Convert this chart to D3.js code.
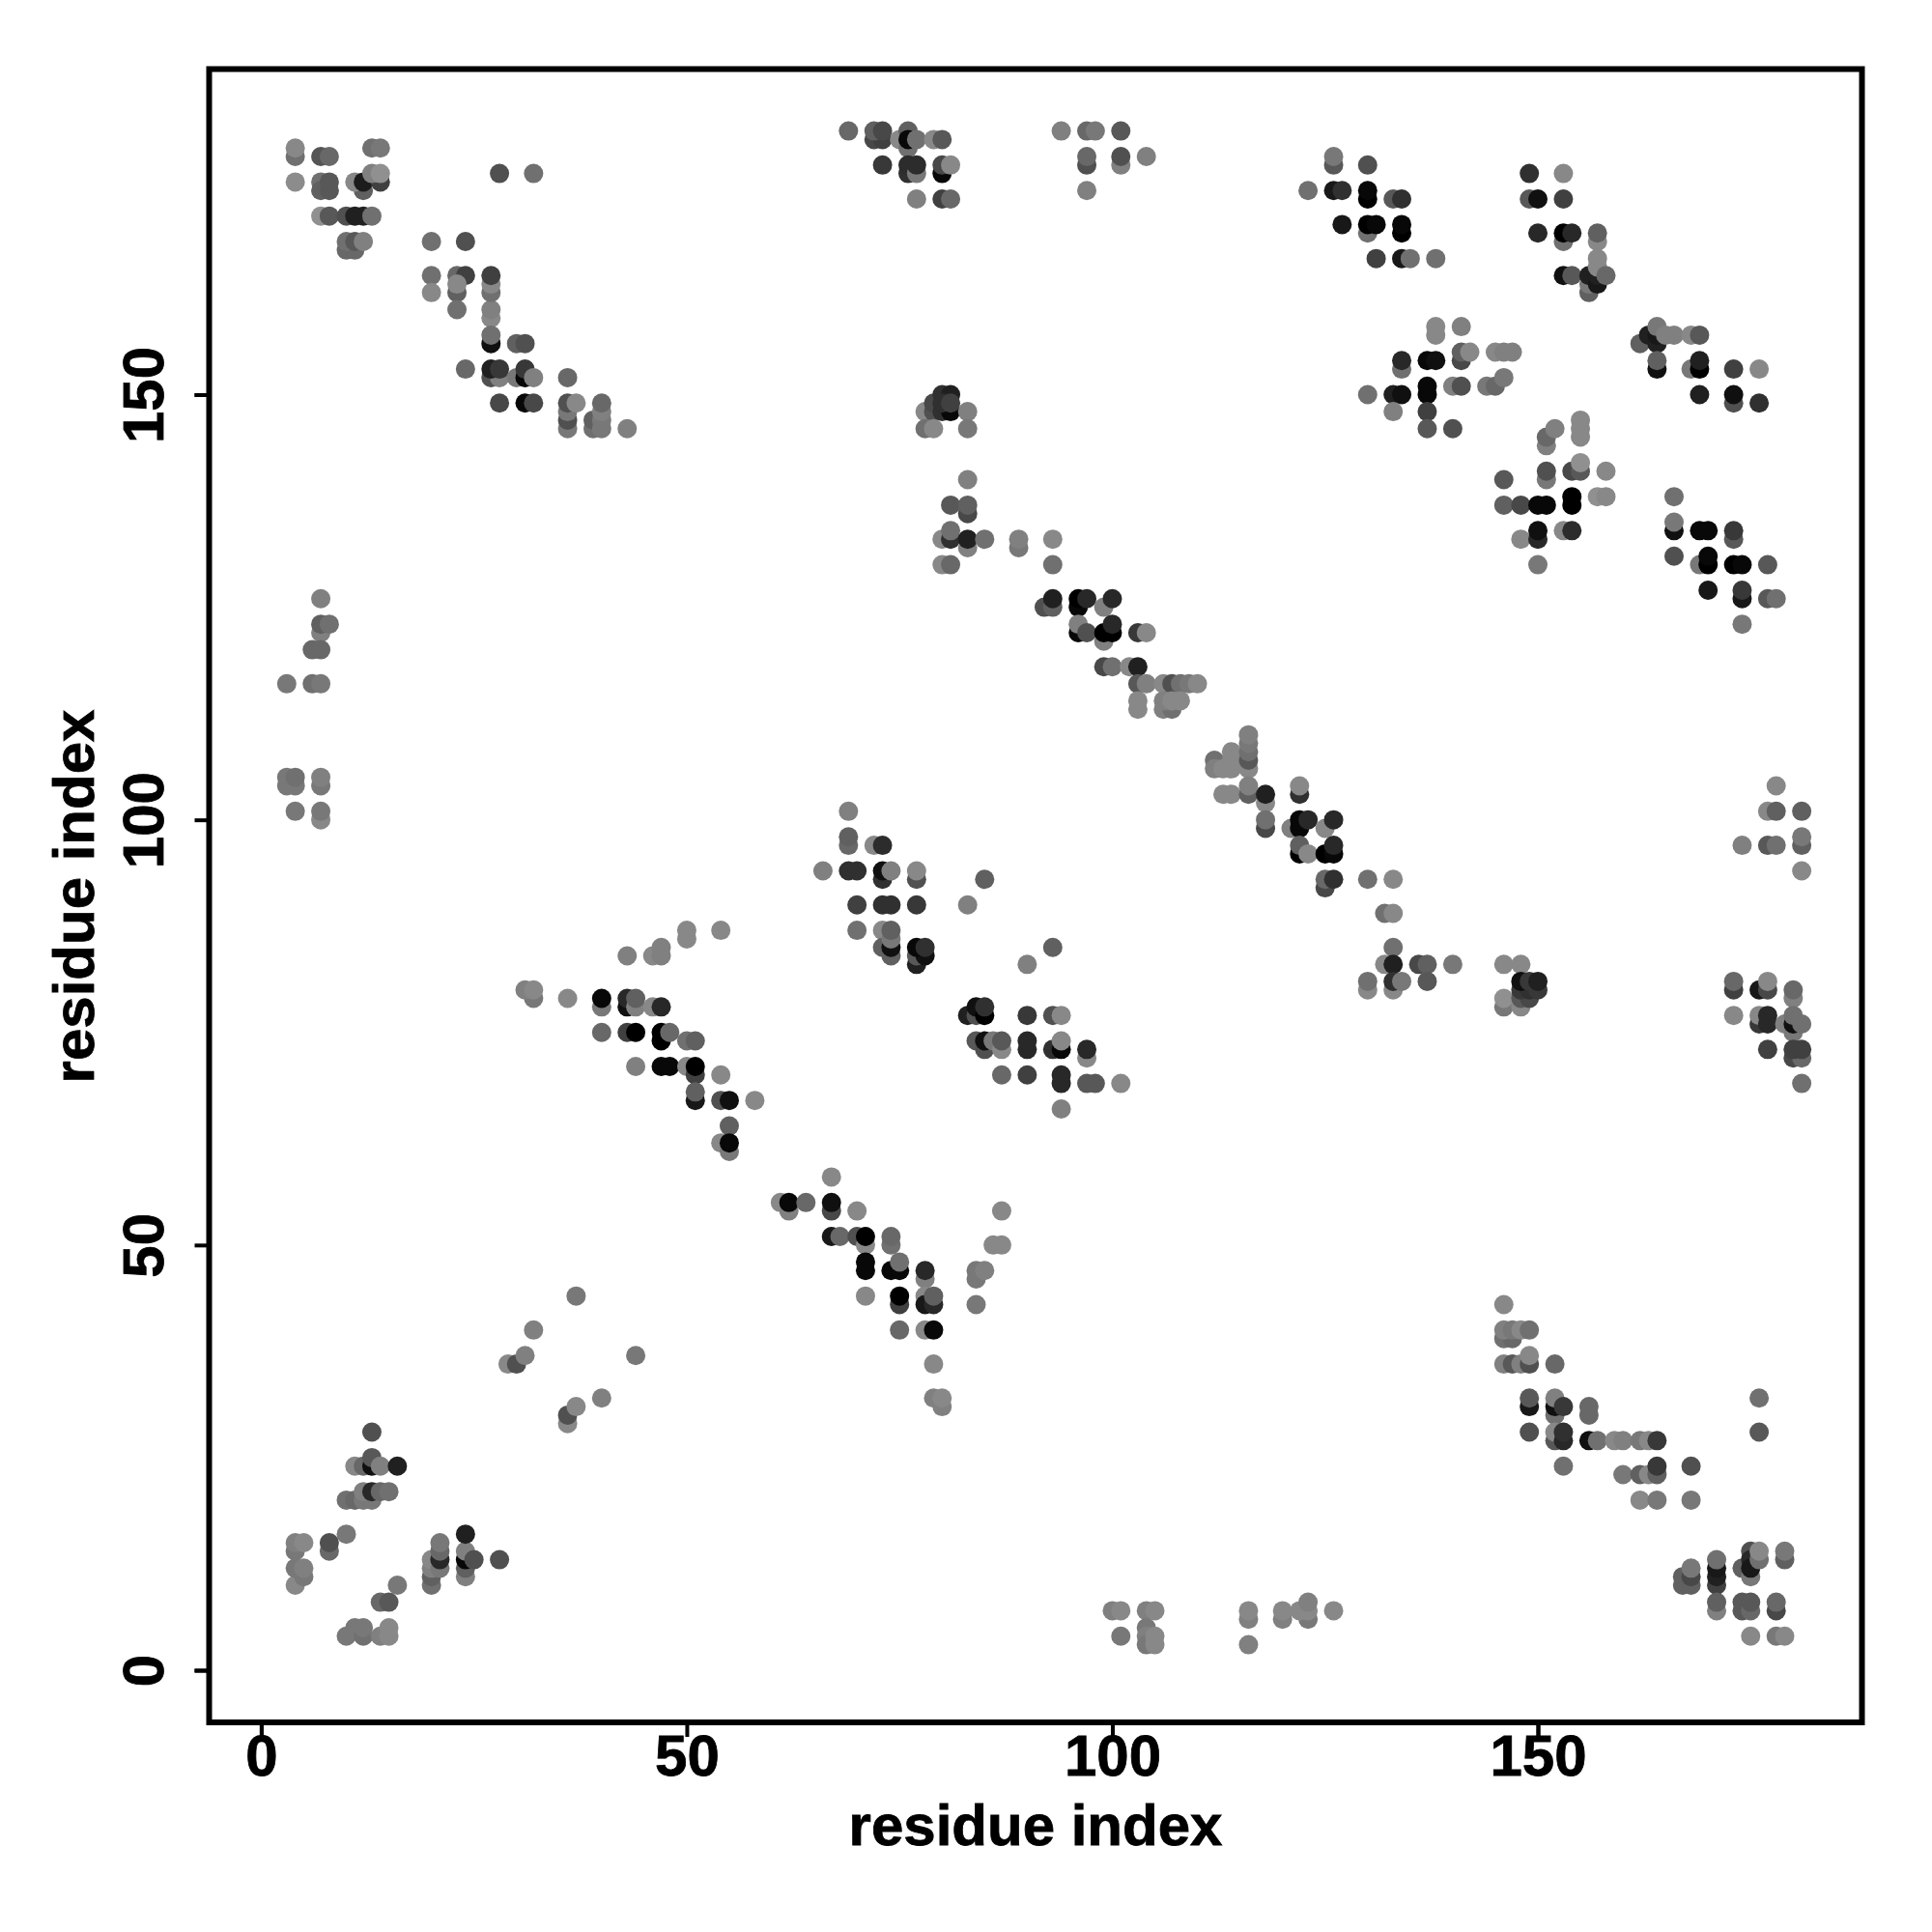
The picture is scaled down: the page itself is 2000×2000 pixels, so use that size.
<!DOCTYPE html>
<html><head><meta charset="utf-8">
<style>html,body{margin:0;padding:0;background:#fff}svg{display:block}</style>
<script src="https://cdn.jsdelivr.net/npm/d3@7/dist/d3.min.js"></script>
</head><body><svg id="c" width="2000" height="2000"></svg>
<script>
// Each entry: [residue index x, residue index y, grey shade of the point]
const topLeft = [[4,178,0x70],[4,179,0x88],[4,175,0x8c],[7,178,0x55],[8,178,0x68],[13,179,0x70],[14,179,0x78],
[7,175,0x70],[7,174,0x60],[8,174,0x58],[8,175,0x58],[12,174,0x60],[11,175,0x88],[12,175,0x1c],[14,175,0x40],[13,176,0x80],[14,176,0x90],
[7,171,0x90],[8,171,0x58],[10,171,0x50],[11,171,0x20],[12,171,0x20],[13,171,0x70],
[10,167,0x68],[11,167,0x68],[10,168,0x70],[11,168,0x58],[12,168,0x80],[28,176,0x50],[32,176,0x70]];
const upperStrand = [[20,168,0x70],[24,168,0x50],[20,164,0x70],[23,164,0x68],[24,164,0x40],[20,162,0x88],[23,162,0x60],[23,163,0x88],[23,160,0x70],
[27,159,0x88],[27,160,0x80],[27,162,0x70],[27,163,0x88],[27,164,0x40],[27,156,0x10],[27,157,0x70],[30,156,0x60],[31,156,0x50],
[24,153,0x68],[27,152,0x50],[28,152,0x80],[27,153,0x20],[28,153,0x38],[30,152,0x78],[31,152,0x08],[31,153,0x38],[32,152,0x80],[36,152,0x68],
[28,149,0x48],[31,149,0x08],[32,149,0x48],[36,146,0x78],[36,147,0x50],[36,148,0x78],[36,149,0x50],[37,149,0x88],[39,146,0x70],[39,147,0x60],[40,146,0x78],[40,147,0x78],[40,148,0x80],[40,149,0x68],[43,146,0x80]];
const topMiddle = [[69,181,0x68],[72,180,0x48],[73,180,0x40],[72,181,0x60],[73,181,0x48],[75,180,0x88],[76,179,0x70],[76,181,0x60],[76,180,0x08],[77,180,0x70],[79,180,0x88],[80,180,0x58],
[73,177,0x38],[76,176,0x30],[76,177,0x2c],[77,176,0x78],[77,177,0x2c],[80,176,0x08],[80,177,0x48],[81,177,0x88],[77,173,0x80],[80,173,0x40],[81,173,0x68],
[94,181,0x80],[97,181,0x68],[98,181,0x78],[101,181,0x58],[97,177,0x50],[97,178,0x68],[101,177,0x80],[101,178,0x50],[104,178,0x80],[97,174,0x80]];
const topRight = [[126,177,0x58],[126,178,0x78],[130,177,0x50],[123,174,0x70],[126,174,0x18],[127,174,0x30],[130,173,0x00],[130,174,0x08],[133,173,0x58],[134,173,0x30],
[127,170,0x18],[130,169,0x70],[130,170,0x00],[131,170,0x08],[134,169,0x00],[134,170,0x08],[131,166,0x40],[134,166,0x18],[135,166,0x70],[138,166,0x70],
[149,176,0x30],[153,176,0x88],[149,173,0x58],[150,173,0x10],[153,173,0x40],[150,169,0x28],[153,168,0x70],[153,169,0x00],[154,169,0x28],[157,168,0x88],[157,169,0x60],
[153,164,0x10],[154,164,0x58],[156,162,0x60],[156,163,0x78],[156,164,0x20],[157,163,0x18],[157,164,0x20],[157,165,0x88],[157,166,0x88],[158,164,0x68]];
const rightUpper = [[138,157,0x88],[138,158,0x88],[141,158,0x80],[134,153,0x70],[134,154,0x28],[137,154,0x08],[138,154,0x10],[141,154,0x48],[141,155,0x60],[142,155,0x88],[145,155,0x88],[146,155,0x80],[147,155,0x80],
[130,150,0x70],[133,150,0x20],[134,150,0x10],[137,150,0x08],[137,151,0x08],[140,151,0x80],[141,151,0x50],[144,151,0x78],[145,151,0x68],[146,152,0x78],[133,148,0x80],[137,148,0x40],[137,146,0x58],[140,146,0x50],
[162,156,0x60],[163,157,0x20],[164,156,0x20],[164,157,0x18],[164,158,0x78],[165,157,0x80],[166,157,0x80],[168,157,0x88],[169,157,0x58],
[164,153,0x10],[164,154,0x60],[168,153,0x78],[169,153,0x00],[169,154,0x20],[173,153,0x40],[176,153,0x88],[169,150,0x20],[173,149,0x50],[173,150,0x10],[176,149,0x30]];
const rightMiddle = [[151,144,0x80],[151,145,0x68],[152,146,0x80],[155,145,0x88],[155,146,0x88],[155,147,0x88],[151,140,0x78],[151,141,0x50],[154,141,0x48],[155,141,0x58],[155,142,0x90],[158,141,0x88],[146,140,0x58],
[146,137,0x60],[148,137,0x48],[150,137,0x08],[151,137,0x08],[154,137,0x00],[154,138,0x00],[157,138,0x90],[158,138,0x88],[148,133,0x88],[150,133,0x28],[150,134,0x10],[153,134,0x88],[154,134,0x2c],[150,130,0x78],
[166,138,0x70],[166,134,0x10],[166,135,0x78],[166,131,0x50],[169,134,0x08],[170,134,0x08],[173,133,0x58],[173,134,0x38],[169,130,0x78],[170,130,0x00],[170,131,0x08],[173,130,0x00],[174,130,0x08],[177,130,0x58],[170,127,0x18],[174,126,0x18],[174,127,0x38],[177,126,0x58],[178,126,0x70],[174,123,0x78]];
const centreUpper = [[78,148,0x88],[79,148,0x50],[79,149,0x48],[80,148,0x30],[81,148,0x08],[80,150,0x30],[81,150,0x20],[80,149,0x30],[81,149,0x40],[83,148,0x80],[78,146,0x70],[79,146,0x88],[83,146,0x78],
[83,140,0x80],[81,137,0x58],[83,136,0x48],[83,137,0x60],[80,133,0x88],[81,133,0x30],[81,134,0x70],[83,132,0x80],[83,133,0x20],[85,133,0x70],[89,132,0x78],[89,133,0x80],[93,133,0x88],[80,130,0x88],[81,130,0x68],[93,130,0x70],
[92,125,0x50],[93,125,0x60],[93,126,0x20],[96,125,0x08],[96,126,0x00],[97,126,0x28],[99,125,0x80],[100,126,0x28],
[96,122,0x08],[96,123,0x80],[97,122,0x50],[99,121,0x80],[99,122,0x00],[100,122,0x00],[100,123,0x28],[103,122,0x38],[104,122,0x88],
[99,118,0x48],[100,118,0x70],[102,118,0x88],[103,118,0x20],[103,116,0x58],[104,116,0x80],[106,116,0x88],[107,116,0x50],[108,116,0x70],[109,116,0x78],[110,116,0x88],[103,113,0x88],[103,114,0x88],[106,113,0x80],[107,113,0x70],[106,114,0x80],[107,114,0x88],[108,114,0x88]];
const centreLower = [[112,107,0x70],[112,106,0x80],[113,106,0x88],[114,106,0x88],[114,107,0x88],[114,108,0x88],[116,106,0x88],[116,107,0x58],[116,108,0x70],[116,109,0x78],[116,110,0x80],[113,103,0x88],[114,103,0x88],[116,103,0x60],[116,104,0x80],[118,102,0x88],[118,103,0x20],[118,99,0x48],[118,100,0x70],[122,103,0x30],[122,104,0x88],
[121,99,0x80],[122,99,0x08],[122,100,0x08],[123,100,0x28],[125,99,0x88],[126,100,0x28],[122,96,0x00],[122,97,0x60],[123,96,0x88],[125,96,0x00],[126,96,0x08],[126,97,0x28],
[125,92,0x48],[125,93,0x68],[126,93,0x30],[130,93,0x70],[133,93,0x88],[132,89,0x70],[133,89,0x88],[133,85,0x70],[132,83,0x88],[133,83,0x20],[136,83,0x48],[137,83,0x60],[140,83,0x78],[130,80,0x88],[130,81,0x70],[133,80,0x88],[133,81,0x30],[134,81,0x78],[137,81,0x58],
[146,83,0x88],[148,83,0x88],[146,78,0x78],[146,79,0x90],[148,78,0x88],[148,79,0x58],[149,79,0x48],[148,80,0x38],[149,80,0x30],[150,80,0x38],[148,81,0x10],[149,81,0x38],[150,81,0x20]];
const leftStrand = [[50,86,0x88],[50,87,0x88],[54,87,0x88],[43,84,0x80],[46,84,0x88],[47,84,0x80],[47,85,0x80],[32,79,0x78],[31,80,0x80],[32,80,0x88],[36,79,0x88],
[40,78,0x78],[40,79,0x08],[43,78,0x10],[43,79,0x28],[44,78,0x80],[44,79,0x60],[46,78,0x88],[47,78,0x28],
[40,75,0x68],[43,75,0x40],[44,75,0x00],[47,74,0x00],[47,75,0x00],[48,75,0x68],[50,74,0x70],[51,74,0x60],
[44,71,0x80],[47,71,0x08],[48,71,0x08],[50,71,0x88],[51,70,0x40],[51,71,0x00],[54,70,0x88],[51,67,0x18],[51,68,0x60],[54,67,0x50],[55,67,0x10],[58,67,0x88],[55,64,0x60],[54,62,0x88],[55,61,0x78],[55,62,0x08]];
const lowerStrand = [[61,55,0x88],[62,54,0x80],[62,55,0x08],[64,55,0x68],[67,58,0x88],[67,54,0x48],[67,55,0x10],[70,54,0x88],
[67,51,0x18],[68,51,0x68],[70,51,0x50],[71,50,0x88],[71,51,0x00],[74,50,0x70],[74,51,0x68],
[71,47,0x08],[71,48,0x08],[74,47,0x08],[75,47,0x08],[75,48,0x70],[78,46,0x80],[78,47,0x28],
[71,44,0x88],[75,43,0x40],[75,44,0x00],[78,44,0x88],[78,43,0x18],[79,43,0x28],[79,44,0x60],[75,40,0x68],[78,40,0x88],[79,40,0x08],[79,36,0x88],[80,31,0x80],[79,32,0x80],[80,32,0x88],
[84,46,0x78],[84,47,0x78],[85,47,0x80],[84,43,0x78],[86,50,0x88],[87,50,0x88],[87,54,0x88]];
const middleStrand = [[69,101,0x80],[69,97,0x68],[69,98,0x60],[72,97,0x88],[73,97,0x2c],[66,94,0x80],[69,94,0x30],[70,94,0x30],[73,93,0x30],[73,94,0x10],[74,94,0x80],[77,93,0x50],[77,94,0x88],[70,90,0x40],[73,90,0x30],[74,90,0x30],[77,90,0x38],
[70,87,0x70],[73,87,0x88],[73,85,0x60],[74,84,0x60],[74,85,0x10],[74,86,0x78],[74,87,0x60],[77,83,0x20],[77,84,0x58],[78,84,0x10],[77,85,0x08],[78,85,0x30],[85,93,0x60],[83,90,0x80],[93,85,0x60],[90,83,0x80],
[83,77,0x20],[84,77,0x50],[84,78,0x10],[85,77,0x00],[85,78,0x30],[90,77,0x38],[93,77,0x50],[94,77,0x88],
[84,74,0x58],[85,73,0x50],[85,74,0x10],[86,74,0x78],[87,73,0x88],[87,74,0x58],[90,73,0x28],[90,74,0x28],[93,73,0x30],[94,73,0x08],[94,74,0x88],[97,72,0x88],[97,73,0x28],[87,70,0x68],[90,70,0x40],[94,69,0x28],[94,70,0x28],[97,69,0x58],[98,69,0x58],[101,69,0x88],[94,66,0x80]];
const bottomLeft = [[37,44,0x78],[32,40,0x80],[29,36,0x88],[30,36,0x50],[31,37,0x80],[44,37,0x78],[36,29,0x88],[36,30,0x50],[37,31,0x88],[40,32,0x80],
[13,28,0x50],[11,24,0x88],[12,24,0x68],[13,24,0x10],[13,25,0x58],[14,24,0x80],[16,24,0x20],
[10,20,0x70],[11,20,0x68],[12,20,0x78],[13,20,0x78],[12,21,0x80],[13,21,0x28],[14,21,0x68],[15,21,0x70],
[10,16,0x78],[8,14,0x68],[8,15,0x50],[4,14,0x78],[4,15,0x80],[5,15,0x88],[4,10,0x88],[5,11,0x78],[4,12,0x78],[5,12,0x80],
[16,10,0x78],[14,8,0x68],[15,8,0x58],[10,4,0x78],[11,5,0x78],[12,4,0x70],[12,5,0x78],[14,4,0x80],[15,4,0x88],[15,5,0x88],
[20,10,0x70],[20,11,0x60],[20,12,0x80],[20,13,0x88],[21,12,0x78],[21,13,0x28],[21,14,0x68],[21,15,0x78],[24,11,0x80],[24,12,0x60],[24,13,0x08],[24,14,0x80],[25,13,0x50],[24,16,0x20],[28,13,0x50]];
const bottomRight = [[146,43,0x88],[146,39,0x70],[147,39,0x68],[146,40,0x80],[147,40,0x78],[148,40,0x88],[149,40,0x70],[146,36,0x80],[147,36,0x58],[148,36,0x80],[149,36,0x50],[149,37,0x88],[152,36,0x68],
[149,31,0x18],[149,32,0x58],[152,30,0x70],[152,31,0x10],[152,32,0x80],[153,31,0x38],[156,30,0x68],[156,31,0x68],[149,28,0x50],[152,27,0x58],[152,28,0x88],[153,27,0x28],[153,28,0x30],
[156,27,0x10],[157,27,0x70],[159,27,0x88],[160,27,0x80],[162,27,0x78],[163,27,0x88],[164,27,0x38],[153,24,0x70],[160,23,0x78],[162,23,0x60],[163,23,0x88],[164,23,0x60],[164,24,0x38],[168,24,0x50],[162,20,0x88],[164,20,0x78],[168,20,0x78],
[167,10,0x60],[167,11,0x60],[168,10,0x60],[168,11,0x48],[168,12,0x78],[171,10,0x40],[171,11,0x20],[171,12,0x18],[171,13,0x70],[171,7,0x80],[171,8,0x60],
[174,12,0x60],[175,11,0x78],[175,14,0x50],[175,13,0x28],[175,12,0x18],[176,13,0x70],[176,14,0x88],[178,7,0x48],[179,13,0x60],[179,14,0x78],[174,7,0x58],[174,8,0x58],[175,7,0x68],[175,8,0x58],[178,8,0x68],[175,4,0x88],[178,4,0x78],[179,4,0x88],[176,28,0x58],[176,32,0x70]];
const rightEdge = [[178,104,0x88],[177,101,0x88],[178,101,0x60],[181,101,0x60],[174,97,0x80],[177,97,0x58],[178,97,0x70],[181,97,0x60],[181,98,0x78],[181,94,0x88],
[173,80,0x40],[173,81,0x68],[176,80,0x18],[177,80,0x48],[177,81,0x88],[180,79,0x80],[180,80,0x68],[173,77,0x88],[176,76,0x38],[176,77,0x88],[177,76,0x28],[177,77,0x28],[179,76,0x80],[180,75,0x78],[180,76,0x10],[180,77,0x70],[181,76,0x70],[177,73,0x40],[180,72,0x48],[181,72,0x68],[180,73,0x40],[181,73,0x40],[181,69,0x70]];
const leftEdge = [[7,126,0x80],[7,122,0x80],[7,123,0x60],[8,123,0x70],[6,120,0x68],[7,120,0x68],[3,116,0x78],[6,116,0x70],[7,116,0x78],[3,104,0x78],[3,105,0x78],[4,104,0x78],[4,105,0x70],[7,104,0x78],[7,105,0x80],[4,101,0x78],[7,100,0x88],[7,101,0x78]];
const bottomEdge = [[100,7,0x80],[101,7,0x88],[101,4,0x78],[104,7,0x80],[105,7,0x88],[104,5,0x78],[104,4,0x80],[104,3,0x78],[105,4,0x88],[105,3,0x88],[116,3,0x80],[116,6,0x80],[116,7,0x88],[120,6,0x80],[120,7,0x88],[123,6,0x78],[122,7,0x88],[123,7,0x88],[123,8,0x80],[126,7,0x88]];

const xTicks = [0, 50, 100, 150];
const yTicks = [0, 50, 100, 150];
const xTitle = "residue index";
const yTitle = "residue index";

const contacts = [topLeft, upperStrand, topMiddle, topRight, rightUpper, rightMiddle, centreUpper, centreLower,
  leftStrand, lowerStrand, middleStrand, bottomLeft, bottomRight, rightEdge, leftEdge, bottomEdge].flat();

const box = {left: 216.5, right: 1927.5, top: 71.5, bottom: 1783};
const x = d3.scaleLinear().domain([0, 150]).range([270.4, 1592]);
const y = d3.scaleLinear().domain([0, 150]).range([1729, 408.5]);
const shade = d3.scaleLinear().domain([0, 255]).range(["#000000", "#ffffff"]);
const font = "'Liberation Sans', Arial, sans-serif";

const svg = d3.select("#c");
svg.append("rect").attr("width", 2000).attr("height", 2000).attr("fill", "#fff");

svg.append("g").selectAll("circle").data(contacts).join("circle")
  .attr("cx", d => x(d[0])).attr("cy", d => y(d[1])).attr("r", 10)
  .attr("fill", d => shade(d[2]));

const styleAxis = g => {
  g.select(".domain").attr("stroke", "#000").attr("stroke-width", 4);
  g.selectAll(".tick line").attr("stroke", "#000").attr("stroke-width", 4);
  g.selectAll(".tick text").attr("font-family", font).attr("font-weight", "bold")
    .attr("font-size", 60).attr("fill", "#000")
    .attr("stroke", "#000").attr("stroke-width", 0.8);
};

svg.append("g").attr("transform", `translate(0,${box.bottom})`)
  .call(d3.axisBottom(x).tickValues(xTicks).tickSize(15).tickPadding(-3).tickFormat(d3.format("d")))
  .call(styleAxis);

const yAxis = svg.append("g").attr("transform", `translate(${box.left},0)`)
  .call(d3.axisLeft(y).tickValues(yTicks).tickSize(15).tickFormat(d3.format("d")))
  .call(styleAxis);
yAxis.selectAll(".tick text")
  .attr("text-anchor", "middle").attr("dy", 0).attr("x", 0).attr("y", 0)
  .attr("transform", "translate(-48,0) rotate(-90)");

svg.append("rect").attr("x", box.left).attr("y", box.top)
  .attr("width", box.right - box.left).attr("height", box.bottom - box.top)
  .attr("fill", "none").attr("stroke", "#000").attr("stroke-width", 6);

svg.append("text").attr("x", 1072).attr("y", 1910).attr("text-anchor", "middle")
  .attr("font-family", font).attr("font-weight", "bold").attr("font-size", 60)
  .attr("stroke", "#000").attr("stroke-width", 0.8).text(xTitle);
svg.append("text").attr("transform", "translate(97,928) rotate(-90)").attr("text-anchor", "middle")
  .attr("font-family", font).attr("font-weight", "bold").attr("font-size", 60)
  .attr("stroke", "#000").attr("stroke-width", 0.8).text(yTitle);
</script></body></html>
